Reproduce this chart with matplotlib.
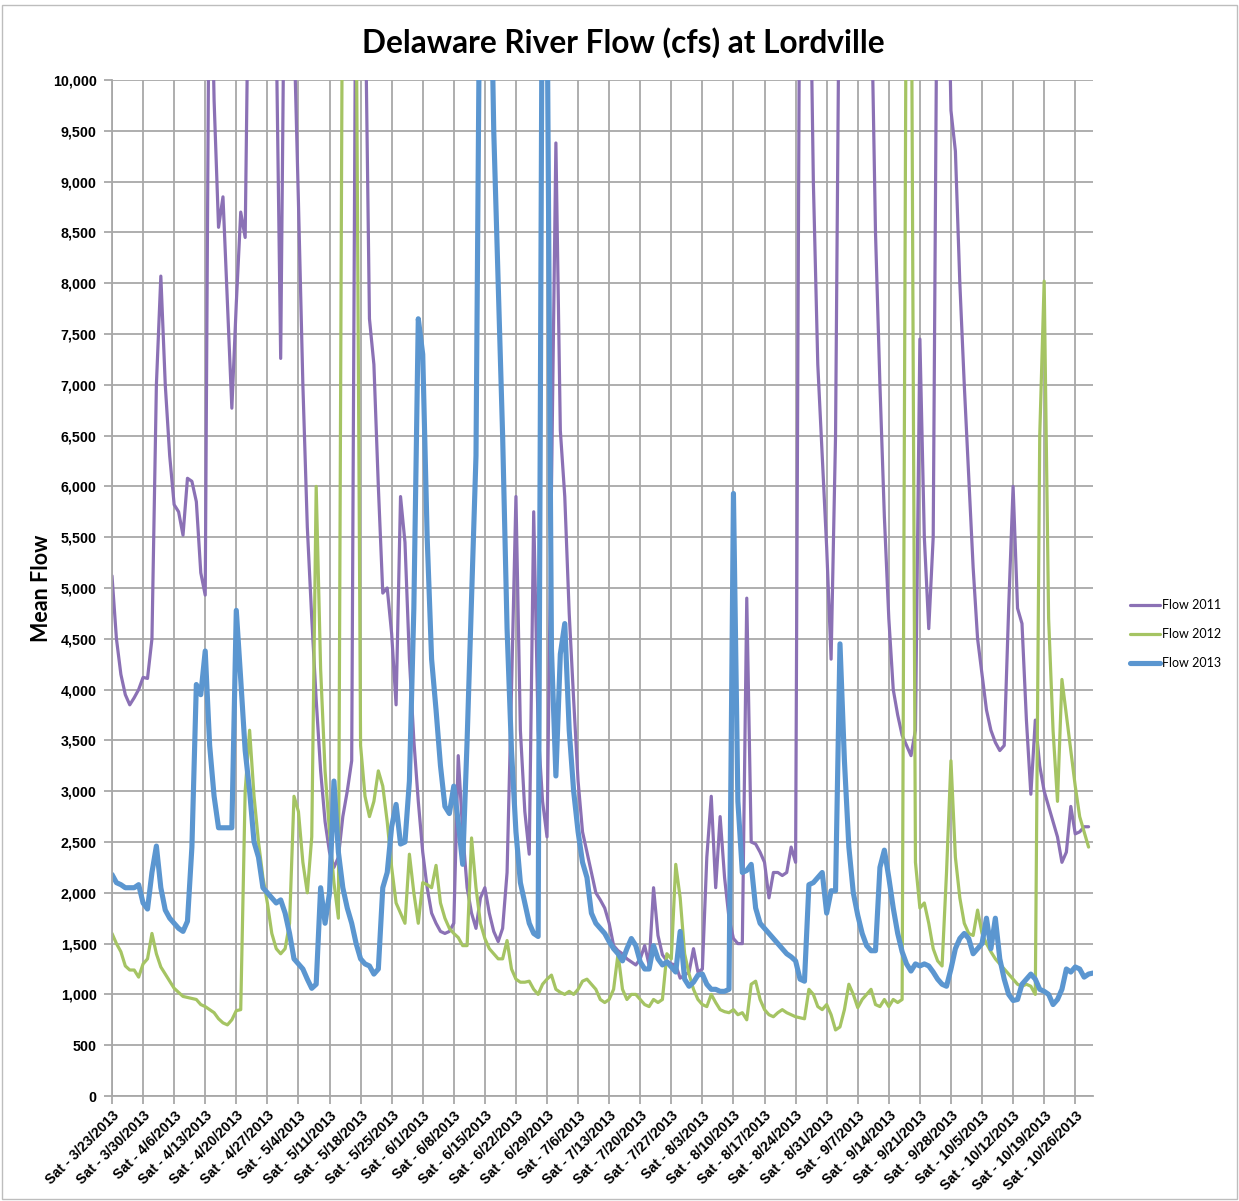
import matplotlib
matplotlib.use('Agg')
from matplotlib import pyplot as plt
from matplotlib.ticker import FuncFormatter
from matplotlib.patches import Rectangle
import numpy as np

# weekly tick labels (one tick every 7 days)
week_labels = ['Sat - 3/23/2013', 'Sat - 3/30/2013', 'Sat - 4/6/2013', 'Sat - 4/13/2013',
               'Sat - 4/20/2013', 'Sat - 4/27/2013', 'Sat - 5/4/2013', 'Sat - 5/11/2013',
               'Sat - 5/18/2013', 'Sat - 5/25/2013', 'Sat - 6/1/2013', 'Sat - 6/8/2013',
               'Sat - 6/15/2013', 'Sat - 6/22/2013', 'Sat - 6/29/2013', 'Sat - 7/6/2013',
               'Sat - 7/13/2013', 'Sat - 7/20/2013', 'Sat - 7/27/2013', 'Sat - 8/3/2013',
               'Sat - 8/10/2013', 'Sat - 8/17/2013', 'Sat - 8/24/2013', 'Sat - 8/31/2013',
               'Sat - 9/7/2013', 'Sat - 9/14/2013', 'Sat - 9/21/2013', 'Sat - 9/28/2013',
               'Sat - 10/5/2013', 'Sat - 10/12/2013', 'Sat - 10/19/2013', 'Sat - 10/26/2013']

# daily mean flow, one row per week
flow_2011 = [
    5120, 4500, 4150, 3950, 3850, 3920, 4000,
    4120, 4110, 4500, 7000, 8070, 7000, 6300,
    5820, 5750, 5520, 6080, 6050, 5850, 5150,
    4930, 12000, 9800, 8550, 8850, 7800, 6770,
    7800, 8700, 8450, 12000, 12000, 12000, 12000,
    12000, 12000, 10500, 7260, 12000, 12000, 10500,
    8800, 7000, 5600, 4700, 3900, 3200, 2700,
    2400, 2250, 2350, 2750, 3000, 3300, 12000,
    12000, 11000, 7650, 7200, 6000, 4950, 5000,
    4550, 3850, 5900, 5450, 4300, 3500, 2900,
    2400, 2050, 1800, 1700, 1620, 1600, 1620,
    1700, 3350, 2600, 2050, 1800, 1650, 1950,
    2050, 1800, 1620, 1520, 1650, 2200, 4000,
    5900, 3600, 2800, 2380, 5750, 3600, 2900,
    2550, 6000, 9380, 6550, 5900, 4750, 3900,
    3100, 2600, 2400, 2200, 2000, 1930, 1850,
    1700, 1480, 1430, 1400, 1350, 1320, 1290,
    1350, 1480, 1290, 2050, 1580, 1390, 1330,
    1300, 1290, 1160, 1190, 1220, 1450, 1220,
    1250, 2350, 2950, 2050, 2750, 2150, 1750,
    1550, 1500, 1500, 4900, 2500, 2480, 2400,
    2300, 1950, 2200, 2200, 2170, 2200, 2450,
    2300, 12000, 12000, 12000, 9000, 7200, 6300,
    5400, 4300, 6500, 12000, 12000, 12000, 12000,
    12000, 12000, 12000, 11000, 8500, 7000, 5700,
    4700, 4000, 3750, 3550, 3450, 3350, 3600,
    7450, 5500, 4600, 5500, 12000, 12000, 12000,
    9700, 9300, 8000, 7000, 6100, 5200, 4500,
    4150, 3800, 3600, 3480, 3400, 3450, 4800,
    6000, 4800, 4650, 3700, 2970, 3700, 3250,
    3000, 2850, 2700, 2550, 2300, 2400, 2850,
    2580, 2600, 2650, 2650]

flow_2012 = [
    1600, 1500, 1420, 1280, 1240, 1240, 1170,
    1300, 1350, 1600, 1400, 1270, 1200, 1130,
    1060, 1020, 980, 970, 960, 950, 900,
    880, 850, 820, 760, 720, 700, 750,
    840, 850, 3000, 3600, 2950, 2500, 2150,
    1900, 1600, 1450, 1400, 1450, 1700, 2950,
    2800, 2300, 2000, 2550, 6000, 4200, 3200,
    2600, 2100, 1750, 12000, 12000, 12000, 11000,
    3450, 2950, 2750, 2900, 3200, 3050, 2700,
    2250, 1900, 1800, 1700, 2380, 2000, 1700,
    2100, 2080, 2050, 2270, 1900, 1750, 1650,
    1600, 1560, 1480, 1480, 2540, 2050, 1700,
    1550, 1450, 1400, 1350, 1350, 1530, 1250,
    1150, 1120, 1120, 1130, 1050, 1000, 1100,
    1150, 1190, 1050, 1020, 1000, 1030, 1000,
    1050, 1130, 1150, 1100, 1050, 950, 920,
    950, 1050, 1400, 1050, 950, 1000, 1000,
    950, 900, 880, 950, 920, 950, 1400,
    1350, 2280, 1950, 1400, 1200, 1050, 950,
    900, 880, 1000, 920, 850, 830, 820,
    850, 800, 820, 750, 1100, 1130, 950,
    850, 800, 780, 820, 850, 820, 800,
    780, 770, 760, 1050, 1000, 880, 850,
    900, 800, 650, 680, 850, 1100, 1000,
    870, 950, 1000, 1050, 900, 880, 950,
    880, 950, 920, 950, 12000, 12000, 2300,
    1850, 1900, 1700, 1450, 1330, 1280, 2200,
    3300, 2350, 1950, 1700, 1600, 1580, 1830,
    1600, 1500, 1420, 1350, 1300, 1250, 1200,
    1150, 1100, 1080, 1100, 1080, 1000, 6500,
    8020, 4700, 3600, 2900, 4100, 3750, 3400,
    3050, 2750, 2600, 2450]

flow_2013 = [
    2180, 2100, 2080, 2050, 2050, 2050, 2080,
    1900, 1840, 2200, 2460, 2050, 1830, 1750,
    1700, 1650, 1620, 1720, 2450, 4050, 3950,
    4380, 3450, 2950, 2640, 2640, 2640, 2640,
    4780, 4100, 3400, 3000, 2500, 2350, 2050,
    2000, 1950, 1900, 1930, 1800, 1600, 1350,
    1300, 1250, 1150, 1060, 1100, 2050, 1700,
    2000, 3100, 2400, 2050, 1850, 1700, 1500,
    1350, 1300, 1280, 1200, 1250, 2050, 2200,
    2650, 2870, 2480, 2500, 3100, 4800, 7650,
    7300, 5500, 4300, 3800, 3250, 2850, 2780,
    3050, 2700, 2280, 3500, 4900, 6300, 12000,
    12000, 12000, 9500, 8000, 6500, 4600, 3400,
    2600, 2100, 1900, 1700, 1600, 1570, 12000,
    11000, 4400, 3150, 4350, 4650, 3600, 3000,
    2600, 2300, 2150, 1800, 1700, 1650, 1600,
    1520, 1450, 1400, 1330, 1450, 1550, 1480,
    1320, 1250, 1250, 1480, 1350, 1290, 1320,
    1270, 1220, 1620, 1150, 1080, 1120, 1190,
    1200, 1100, 1050, 1050, 1030, 1030, 1050,
    5930, 2900, 2200, 2220, 2280, 1850, 1700,
    1650, 1600, 1550, 1500, 1450, 1400, 1370,
    1330, 1150, 1130, 2080, 2100, 2150, 2200,
    1800, 2020, 2020, 4450, 3300, 2450, 2000,
    1780, 1600, 1480, 1430, 1430, 2250, 2420,
    2150, 1850, 1600, 1420, 1300, 1230, 1300,
    1280, 1300, 1280, 1220, 1150, 1100, 1080,
    1250, 1450, 1550, 1600, 1550, 1400, 1450,
    1500, 1750, 1450, 1750, 1350, 1150, 1000,
    940, 950, 1100, 1150, 1200, 1150, 1050,
    1030, 1000, 900, 950, 1050, 1250, 1220,
    1270, 1250, 1170, 1200, 1210]

plt.rcParams['font.family'] = ['Liberation Sans', 'DejaVu Sans']

W, H = 1239, 1201
fig = plt.figure(figsize=(W / 100, H / 100), dpi=100)
ax = fig.add_axes([112 / W, 1 - 1096 / H, (1093 - 112) / W, (1096 - 80) / H])

kw = dict(solid_joinstyle='round', solid_capstyle='round')
ax.plot(np.arange(len(flow_2011)), flow_2011, color='#8B71B5', lw=2.3, label='Flow 2011', **kw)
ax.plot(np.arange(len(flow_2012)), flow_2012, color='#A5C463', lw=2.3, label='Flow 2012', **kw)
ax.plot(np.arange(len(flow_2013)), flow_2013, color='#5B96D0', lw=3.7, label='Flow 2013', **kw)

ax.set_ylim(0, 10000)
ax.set_xlim(0, 221)
ax.set_yticks(np.arange(0, 10001, 500))
ax.yaxis.set_major_formatter(FuncFormatter(lambda v, p: f'{int(v):,}'))
ax.set_xticks(np.arange(0, 7 * len(week_labels), 7))
ax.set_xticklabels(week_labels, rotation=45, ha='right', va='top',
                   rotation_mode='anchor', fontweight='bold', fontsize=10.2)
for lab in ax.get_yticklabels():
    lab.set_fontweight('bold')
    lab.set_fontsize(10.3)

ax.grid(True, color='#a8a8a8', lw=1.3)
ax.set_axisbelow(True)
for s in ['top', 'right']:
    ax.spines[s].set_visible(False)
for s in ['left', 'bottom']:
    ax.spines[s].set_color('#a8a8a8')
    ax.spines[s].set_linewidth(1.3)
ax.tick_params(axis='both', color='#a8a8a8', width=1.3, length=6)
ax.tick_params(axis='y', pad=5)
ax.tick_params(axis='x', pad=3)

fig.text(623 / W, 1 - 43 / H, 'Delaware River Flow (cfs) at Lordville', ha='center', va='center',
         fontsize=22.8, fontweight='bold', family=['Lato', 'DejaVu Sans'])
fig.text(42 / W, 1 - 588 / H, 'Mean Flow', rotation=90, ha='center', va='center',
         fontsize=15.5, fontweight='bold', family=['Lato', 'DejaVu Sans'])

ax.legend(loc='center left', bbox_to_anchor=(1119 / W, 1 - 634 / H), bbox_transform=fig.transFigure,
          frameon=False, handlelength=2.4, handletextpad=0.1, labelspacing=1.35,
          prop={'family': ['Lato', 'DejaVu Sans'], 'size': 9})

fig.add_artist(Rectangle((2 / W, 2 / H), 1 - 4 / W, 1 - 7 / H, transform=fig.transFigure,
                         fill=False, edgecolor='#bdbdbd', lw=1))

fig.savefig('out.png', dpi=100)
